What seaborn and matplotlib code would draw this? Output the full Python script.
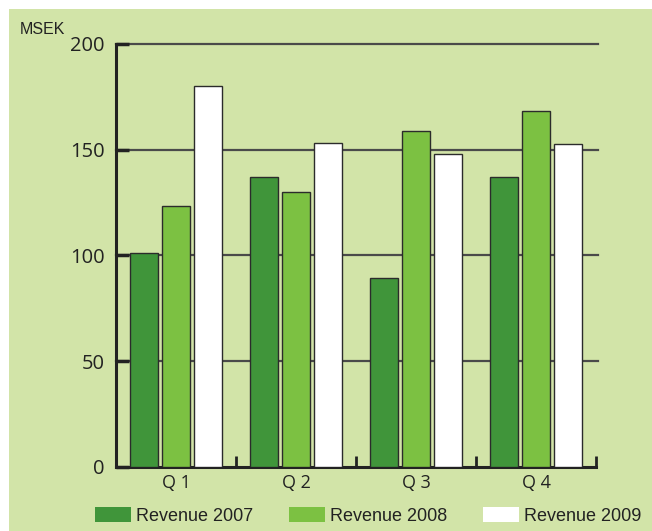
import matplotlib
matplotlib.use("Agg")
import matplotlib.pyplot as plt
import matplotlib.patches as mpatches
import seaborn as sns
import pandas as pd

quarters = ["Q 1", "Q 2", "Q 3", "Q 4"]
series = ["Revenue 2007", "Revenue 2008", "Revenue 2009"]
rev_2007 = [101, 137, 89.5, 137]
rev_2008 = [123.5, 130, 159, 168.5]
rev_2009 = [180, 153, 148, 152.5]
y_ticks = [0, 50, 100, 150, 200]
colors = ["#40953A", "#7CC142", "#FFFFFF"]

df = pd.DataFrame({
    "quarter": quarters * 3,
    "series": [series[0]] * 4 + [series[1]] * 4 + [series[2]] * 4,
    "value": rev_2007 + rev_2008 + rev_2009,
})

bg = "#D2E4A8"
fig = plt.figure(figsize=(6.52, 5.31), dpi=100)
fig.patch.set_facecolor("white")
fig.add_artist(mpatches.Rectangle((9 / 652, 0), 1, 1 - 9 / 531, transform=fig.transFigure,
                                  facecolor=bg, edgecolor="none", zorder=-10))

ax = fig.add_axes([116 / 652, 1 - 467 / 531, 480 / 652, 423 / 531])
ax.set_facecolor(bg)

sns.barplot(data=df, x="quarter", y="value", hue="series", order=quarters,
            hue_order=series, palette=colors, saturation=1, width=0.8, gap=0.12,
            edgecolor="#2b2b2b", linewidth=1.0, ax=ax, legend=False, zorder=3)

ax.set_xlim(-0.5, 3.5)
ax.set_ylim(0, 200)
ax.set_yticks(y_ticks)
ax.set_yticklabels([str(v) for v in y_ticks], fontsize=14.5, family="Open Sans", color="#222222")
for y in y_ticks[1:]:
    ax.axhline(y, color="#4a4a4a", lw=1.6, zorder=1, xmax=1.005, clip_on=False)

ax.set_xticks(range(4))
ax.set_xticklabels(quarters, fontsize=13, family="Open Sans", color="#222222")
ax.tick_params(axis="x", length=0, pad=5)
ax.set_xticks([0.5, 1.5, 2.5, 3.5], minor=True)
ax.tick_params(axis="x", which="minor", direction="in", length=8, width=2, color="#222222")
ax.tick_params(axis="y", direction="in", length=9, width=2.5, color="#222222", pad=8)

for s in ["top", "right"]:
    ax.spines[s].set_visible(False)
for s in ["left", "bottom"]:
    ax.spines[s].set_linewidth(2.2)
    ax.spines[s].set_color("#222222")
ax.set_xlabel("")
ax.set_ylabel("")

fig.text(20 / 652, 1 - 29 / 531, "MSEK", fontsize=11.5, family="Liberation Sans",
         color="#222222", va="center", ha="left")

handles = [mpatches.Patch(facecolor=c, edgecolor="none") for c in colors]
leg = fig.legend(handles, series, loc="center", ncol=3, frameon=False,
                 bbox_to_anchor=(368 / 652, 1 - 516 / 531), handlelength=2.0,
                 handleheight=0.85, handletextpad=0.25, columnspacing=2.0,
                 prop={"family": "Liberation Sans", "size": 13})
for t in leg.get_texts():
    t.set_color("#222222")

fig.savefig("out.png", dpi=100, facecolor=fig.get_facecolor())
